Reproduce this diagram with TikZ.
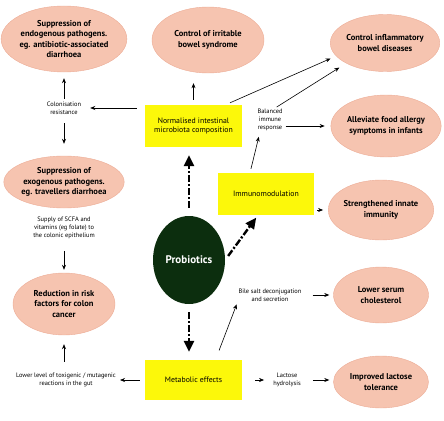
\documentclass[tikz,border=0pt]{standalone}
\usepackage{fontspec}
\setmainfont{PT Sans}
\usetikzlibrary{arrows.meta, shapes.geometric}
\definecolor{salmon}{RGB}{246,196,176}
\definecolor{salmonline}{RGB}{236,172,150}
\definecolor{probgreen}{RGB}{12,46,14}
\definecolor{boxyellow}{RGB}{252,248,10}

\begin{document}
\begin{tikzpicture}[
    x=1pt, y=-1pt,
    outcome/.style={ellipse, draw=salmonline, fill=salmon, align=center, inner sep=0pt, font=\bfseries\fontsize{8.5}{10.5}\selectfont},
    effect/.style={fill=boxyellow, align=center, inner sep=0pt, minimum width=97pt, minimum height=42pt, font=\fontsize{7.8}{9.3}\selectfont},
    note/.style={align=center, inner sep=1pt, font=\fontsize{6.4}{7.8}\selectfont},
    arr/.style={-{Stealth[length=5pt,width=4pt]}, semithick},
    bigarr/.style={-{Triangle[length=11pt,width=10pt]}, line width=2.4pt, dash pattern=on 7pt off 2pt on 2pt off 2pt}
]
\useasboundingbox (0,0) rectangle (444,420);

% outcomes
\node[outcome, minimum width=102pt, minimum height=66pt] (endo) at (64,39) {Suppression of\\endogenous pathogens.\\eg. antibiotic-associated\\diarrhoea};
\node[outcome, minimum width=112pt, minimum height=66pt] (ibs) at (208,40) {Control of irritable\\bowel syndrome};
\node[outcome, minimum width=102pt, minimum height=57pt] (ibd) at (385,43) {Control inflammatory\\bowel diseases};
\node[outcome, minimum width=102pt, minimum height=62pt] (allergy) at (386,126) {Alleviate food allergy\\symptoms in infants};
\node[outcome, minimum width=94pt, minimum height=60pt] (innate) at (381,210) {Strengthened innate\\immunity};
\node[outcome, minimum width=95pt, minimum height=56pt] (chol) at (381,295) {Lower serum\\cholesterol};
\node[outcome, minimum width=95pt, minimum height=52pt] (lactose) at (381,382) {Improved lactose\\tolerance};
\node[outcome, minimum width=102pt, minimum height=52pt] (exo) at (64,182) {Suppression of\\exogenous pathogens.\\eg. travellers diarrhoea};
\node[outcome, minimum width=102pt, minimum height=62pt] (colon) at (64,304) {Reduction in risk\\factors for colon\\cancer};

% effects
\node[effect] (norm) at (193.5,126) {Normalised intestinal\\microbiota composition};
\node[effect, minimum width=96pt] (immuno) at (266,194) {Immunomodulation};
\node[effect, minimum height=40pt] (metab) at (193.5,380) {Metabolic effects};

\node[ellipse, fill=probgreen, text=white, minimum width=72pt, minimum height=88pt, inner sep=0pt, font=\bfseries\fontsize{11}{13}\selectfont] (prob) at (189,260) {Probiotics};

% mechanisms
\node[note] (colres) at (64,108) {Colonisation\\resistance};
\node[note] (scfa) at (64,228) {Supply of SCFA and\\vitamins (eg folate) to\\the colonic epithelium};
\node[note] (toxic) at (66,380) {Lower level of toxigenic / mutagenic\\reactions in the gut};
\node[note] (bile) at (270,295) {Bile salt deconjugation\\and secretion};
\node[note] (lact) at (287,380) {Lactose\\hydrolysis};
\node[note] (immune) at (270,120) {Balanced\\immune\\response};

\draw[bigarr, shorten <=8pt, shorten >=8pt] (prob.north) -- (prob.north |- norm.south);
\draw[bigarr, shorten <=5pt, shorten >=3pt] (prob.east) -- ([xshift=-8pt]immuno.south);
\draw[bigarr, shorten <=8pt, shorten >=8pt] (prob.south) -- (prob.south |- metab.north);

\draw[arr, shorten <=5pt, shorten >=10pt] (norm.north) -- (norm.north |- ibs.south);
\draw[arr, shorten <=8pt, shorten >=8pt] (norm.west |- colres.east) -- (colres.east);
\draw[arr, shorten <=2pt, shorten >=6pt] (colres.north) -- (endo.south);
\draw[arr, shorten <=8pt, shorten >=12pt] (colres.south) -- (exo.north);
\draw[arr, shorten <=11pt, shorten >=3pt] (scfa.south) -- (colon.north);
\draw[arr, shorten <=5pt, shorten >=3pt] (metab.west |- toxic.east) -- (toxic.east);
\draw[arr, shorten <=10pt, shorten >=9pt] (colon.south |- toxic.north) -- (colon.south);
\draw[arr, shorten <=10pt, shorten >=2pt] ([xshift=22pt]metab.north) -- (bile.south west);
\draw[arr, shorten <=10pt, shorten >=4pt] (bile.east) -- (chol.west |- bile.east);
\draw[arr, shorten <=13pt, shorten >=8pt] (metab.east |- lact.west) -- (lact.west);
\draw[arr, shorten <=11pt, shorten >=4pt] (lact.east) -- (lactose.west |- lact.east);
\draw[arr, shorten <=3pt, shorten >=5pt] (immuno.east |- innate.west) -- (innate.west);
\draw[arr, shorten <=4pt, shorten >=5pt] ([xshift=-16pt]immuno.north) -- ([xshift=-10pt]immune.south);
\draw[arr, shorten <=2pt, shorten >=6pt] (immune.east |- allergy.west) -- (allergy.west);
\draw[arr, shorten <=2pt, shorten >=8pt] ([xshift=5pt]immune.north) -- (ibd.south west);
\draw[arr, shorten <=5pt, shorten >=6pt] ([xshift=32pt]norm.north) -- (ibd.195);
\end{tikzpicture}
\end{document}
